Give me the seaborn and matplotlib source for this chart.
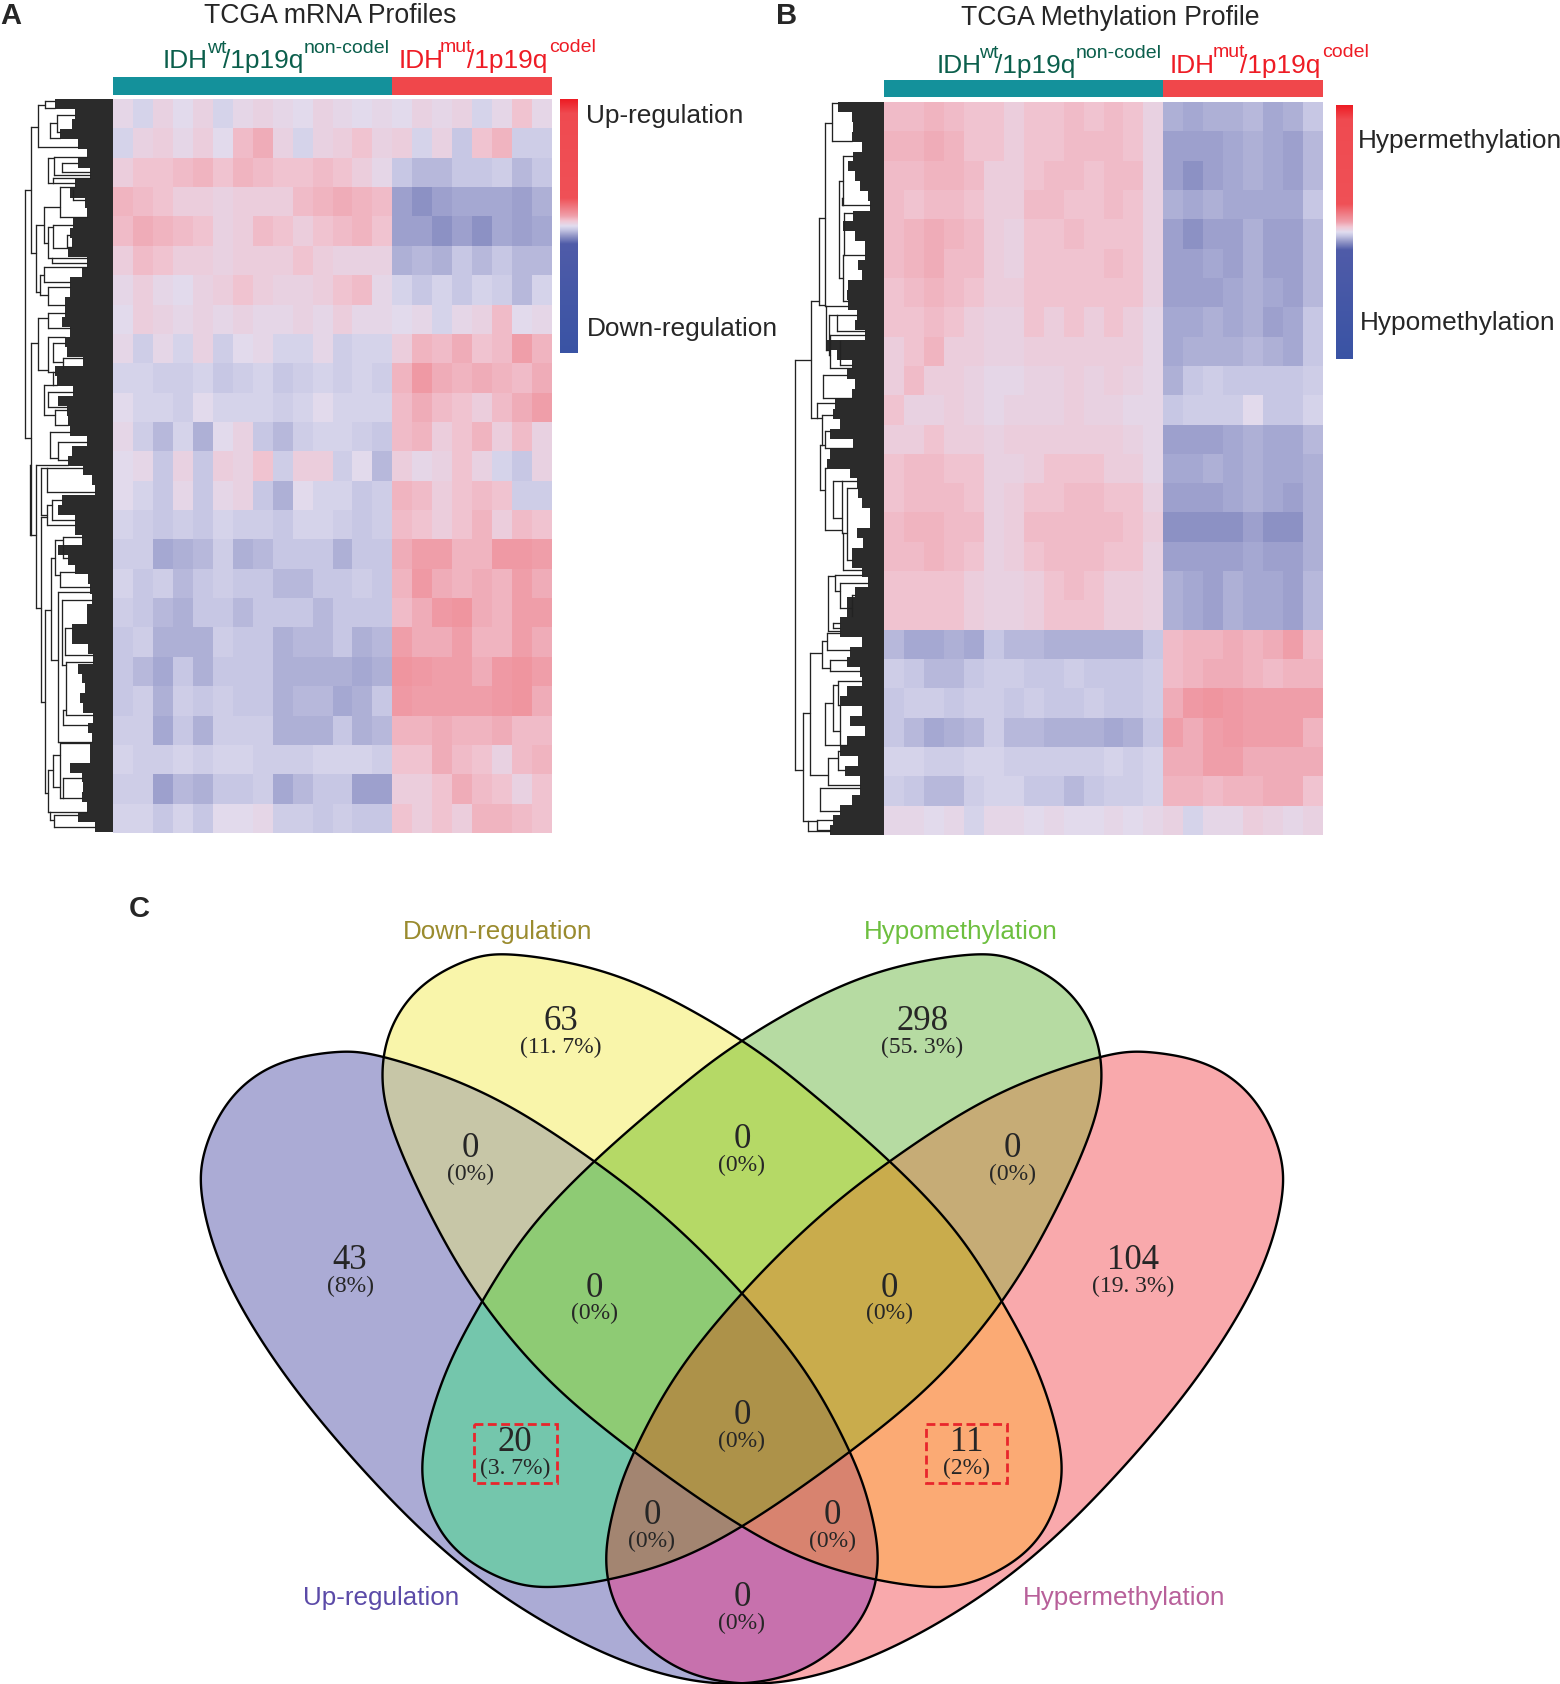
import numpy as np
import matplotlib
matplotlib.use("Agg")
import matplotlib.pyplot as plt
from matplotlib.colors import LinearSegmentedColormap, ListedColormap, to_rgb
from matplotlib.patches import Polygon, Rectangle
from matplotlib.path import Path
import seaborn as sns

W, H = 1560, 1684
sns.set_style("white")
plt.rcParams["font.family"] = ["Liberation Sans", "DejaVu Sans"]

# ---- DATA: block means (14 wt columns + 8 mut columns, 25 row bands)
mrna = [
 [1,-1,2,0,2,-1,1,2,1,0,2,1,0,1, 0,2,1,2,-1,1,4,1],
 [-1,2,3,1,3,0,5,7,2,-1,2,3,4,2, 3,-1,2,-3,4,6,-2,-2],
 [3,4,4,5,6,4,6,5,4,4,5,4,3,1, -3,-4,-4,-3,-3,-2,-4,-3],
 [6,5,4,3,3,2,3,3,3,5,6,7,6,5, -7,-8,-7,-6,-6,-6,-7,-5],
 [5,7,6,5,4,2,3,5,4,3,4,5,6,4, -7,-7,-8,-7,-8,-6,-7,-6],
 [3,5,4,3,3,2,3,3,3,4,3,2,2,2, -5,-4,-5,-3,-4,-3,-4,-4],
 [1,3,1,0,2,3,4,3,2,2,3,4,5,1, -1,-3,-1,-3,-1,-2,-4,-1],
 [0,3,2,1,2,1,2,1,1,2,1,3,1,1, 0,1,-1,1,2,5,0,1],
 [1,-2,1,-1,2,-2,0,1,-1,-1,1,-2,-1,-1, 3,6,5,7,4,5,8,6],
 [-1,-1,-2,-2,-1,-3,-2,-1,-3,-2,-1,-2,-1,-2, 6,9,7,6,7,6,5,7],
 [0,-1,-1,-2,0,-1,-1,-1,-2,-1,0,-1,-1,-1, 5,7,5,4,3,5,7,8],
 [1,-2,-4,-1,-5,0,2,-3,-4,-2,-1,-1,-2,-3, 5,6,3,4,6,3,5,2],
 [0,1,-3,2,-3,3,2,4,-2,3,3,-2,0,-4, 3,1,2,4,2,-1,-3,2],
 [0,-1,-3,1,-3,1,2,-3,-5,0,-1,-1,-3,-2, 6,5,3,4,5,4,-2,-2],
 [-1,-2,-3,-2,-3,-1,-2,-2,-3,-1,-1,-2,-3,-2, 5,4,3,4,6,3,5,4],
 [-2,-2,-6,-5,-4,-2,-5,-4,-3,-3,-3,-5,-3,-3, 7,8,8,6,6,9,9,8],
 [-1,-3,-2,-4,-3,-2,-3,-3,-4,-4,-3,-3,-2,-3, 6,9,7,6,7,6,8,7],
 [-2,-3,-4,-5,-3,-3,-4,-3,-3,-3,-4,-3,-3,-3, 5,7,9,10,7,6,8,8],
 [-3,-2,-5,-5,-5,-2,-3,-3,-5,-4,-4,-3,-5,-4, 8,7,7,8,6,6,8,7],
 [-3,-4,-6,-3,-5,-3,-3,-3,-5,-5,-5,-5,-6,-5, 10,9,8,8,7,9,10,8],
 [-3,-2,-5,-2,-3,-2,-3,-3,-5,-4,-4,-6,-5,-3, 9,8,8,8,8,9,10,7],
 [-2,-2,-6,-3,-5,-2,-2,-2,-5,-5,-5,-3,-5,-4, 6,6,7,6,6,7,5,5],
 [-1,-2,-2,-1,-2,-1,-1,-2,-2,-2,-1,-1,-1,-2, 4,4,7,5,4,2,5,6],
 [-2,-2,-7,-4,-5,-3,-3,-2,-6,-4,-3,-3,-7,-7, 3,3,4,7,5,4,2,4],
 [-1,-1,-3,-1,-3,0,0,1,-2,-2,-3,-2,-3,-3, 4,3,4,3,6,6,5,4],
]
methylation = [
 [5,5,6,5,4,4,3,4,4,5,4,5,4,2, -5,-6,-5,-5,-4,-6,-5,-3],
 [6,6,7,6,4,4,3,4,4,5,5,5,4,2, -7,-7,-7,-6,-5,-6,-7,-4],
 [5,5,6,6,5,3,3,4,5,5,4,5,5,2, -7,-8,-7,-6,-5,-6,-7,-4],
 [5,4,5,5,4,3,3,5,5,4,4,5,4,2, -5,-6,-5,-6,-6,-6,-6,-3],
 [5,6,7,6,5,3,2,4,4,5,4,4,4,2, -7,-8,-7,-7,-5,-7,-7,-4],
 [5,6,7,5,5,3,2,4,4,4,4,5,4,2, -7,-7,-6,-7,-5,-7,-7,-4],
 [4,5,6,5,4,3,3,4,4,4,4,4,4,2, -7,-7,-7,-6,-5,-6,-7,-4],
 [4,4,5,4,3,2,2,4,3,4,3,4,3,1, -6,-6,-5,-6,-5,-7,-6,-3],
 [3,4,6,3,3,2,2,3,3,3,3,3,3,1, -6,-5,-5,-5,-4,-5,-6,-3],
 [3,5,3,3,2,1,1,2,2,3,2,3,2,1, -5,-3,-2,-3,-3,-3,-3,-2],
 [4,2,2,3,2,1,2,2,2,3,2,2,1,1, -3,-2,-2,-2,0,-3,-3,-1],
 [3,3,4,3,3,2,3,3,3,3,3,3,2,1, -7,-7,-7,-6,-5,-6,-6,-4],
 [4,5,5,4,4,2,2,3,4,4,4,3,3,1, -6,-6,-5,-6,-5,-6,-6,-5],
 [4,5,5,5,4,2,3,4,4,5,5,4,4,2, -7,-7,-7,-6,-5,-6,-7,-5],
 [5,6,6,5,5,2,3,5,5,5,5,5,4,3, -8,-8,-8,-8,-7,-8,-8,-5],
 [5,5,6,5,4,2,3,4,5,5,5,4,4,2, -7,-7,-7,-7,-6,-7,-7,-5],
 [4,4,4,4,3,2,2,3,4,5,4,3,3,2, -5,-6,-7,-5,-6,-6,-7,-4],
 [4,4,4,4,3,2,2,3,4,4,4,3,3,2, -5,-6,-7,-5,-6,-6,-7,-4],
 [-4,-6,-6,-5,-6,-3,-4,-4,-5,-5,-5,-5,-5,-3, 5,6,6,7,6,7,8,5],
 [-2,-3,-4,-4,-3,-2,-2,-3,-3,-2,-3,-3,-3,-2, 5,6,7,7,6,5,6,6],
 [-3,-2,-2,-3,-2,-2,-3,-2,-3,-3,-2,-3,-3,-2, 7,9,10,9,8,8,8,8],
 [-3,-4,-6,-5,-4,-2,-4,-4,-5,-5,-5,-6,-5,-3, 8,7,8,9,8,8,8,6],
 [-1,-1,-2,-2,-1,-1,-2,-2,-2,-2,-2,-1,-2,-1, 7,7,8,8,7,7,7,7],
 [-2,-3,-4,-4,-2,-1,-1,-3,-3,-4,-3,-2,-2,-1, 6,6,5,6,6,7,7,4],
 [1,1,0,1,-1,1,1,0,1,0,0,1,0,1, 2,-1,1,1,3,2,1,2],
]
group_mrna = [0]*14 + [1]*8
group_meth = [0]*14 + [1]*8

leaf_a = [55,75,72,60,78,87,78,90,75,70,85,87,73,70,72,68,87,82,70,70,65,65,62,70,65,67,83,55,57,73,58,67,68,70,87,72,68,
          83,92,95,62,58,75,75,82,58,68,75,88,90,92,87,87,72,72,88,93,78,82,85,80,83,93,88,92,90,90,70,82,83,82,87,78,95]
leaf_b = [838,852,853,852,862,853,848,855,860,868,870,853,843,855,865,865,858,862,848,847,848,857,855,865,827,837,852,847,855,852,835,833,840,830,853,830,827,
          850,857,858,862,870,870,857,863,852,852,862,868,855,847,847,840,840,862,850,847,860,862,847,840,862,850,865,847,840,858,845,860,860,852,840,833,830]
dend_a = [(25,190,438),(31,127,253),(31,343,535),(38,105,147),(45,101,108),(50,123,138),(57,115,132),
          (48,158,183),(54,157,175),(62,163,172),(53,178,183),(36,225,292),(44,207,243),(60,187,217),(73,190,200),
          (48,227,258),(53,225,248),(67,235,247),(52,258,263),(44,267,282),(40,275,295),(48,287,305),
          (38,318,370),(48,313,328),(48,337,372),(53,343,362),(63,358,368),(53,372,385),(44,385,415),(48,392,407),
          (55,410,425),(50,432,458),(58,442,460),(36,465,608),(41,468,515),(47,468,492),(47,505,525),(52,500,520),
          (45,610,793),(41,517,702),(30,465,535),(51,558,660),(55,540,575),(63,537,558),(60,572,587),(58,592,742),
          (62,600,665),(65,628,655),(66,662,715),(63,710,725),(60,743,798),(53,755,787),(48,770,812),(63,778,798),
          (50,812,820),(54,815,827)]
dend_b = [(795,360,770),(811,301,418),(819,218,305),(825,123,306),(832,103,141),(839,181,278),(843,156,205),
          (842,198,205),(844,213,255),(843,255,301),(826,306,350),(829,315,355),(830,335,368),(837,315,331),(840,341,365),
          (823,375,398),(817,403,418),(822,415,445),(820,445,490),(825,431,448),(825,468,530),(833,481,518),(842,481,533),
          (847,488,560),(843,533,570),(828,576,631),(835,575,591),(840,583,608),(852,595,616),(833,623,628),(810,653,775),
          (822,641,668),(827,633,650),(830,660,671),(825,703,745),(833,685,731),(838,681,705),(840,706,745),(803,713,821),
          (828,758,785),(838,751,770),(820,788,811),(808,821,831),(817,820,830)]

venn_names = ["Up-regulation", "Down-regulation", "Hypomethylation", "Hypermethylation"]
venn_counts = [63, 298, 0, 0, 0, 43, 104, 0, 0, 0, 20, 11, 0, 0, 0]
venn_pcts = ["(11. 7%)", "(55. 3%)", "(0%)", "(0%)", "(0%)", "(8%)", "(19. 3%)", "(0%)", "(0%)",
             "(0%)", "(3. 7%)", "(2%)", "(0%)", "(0%)", "(0%)"]

# ---- STYLE
cmap = LinearSegmentedColormap.from_list("rb", [
    (0, "#3953A4"), (.43, "#4F5BA8"), (.46, "#8E93C5"), (.485, "#C5C5E3"), (.5, "#E0DCEF"),
    (.52, "#F0C6D3"), (.54, "#EF9FAA"), (.61, "#EF5056"), (.945, "#EF4A50"), (1, "#ED1C24")])
group_cmap = ListedColormap(["#14919B", "#F0474B"])
region_colors = {(1,0,0,0): "#ABABD5", (0,1,0,0): "#F9F5AA", (0,0,1,0): "#B6DBA2", (0,0,0,1): "#F9A9AC",
                 (1,1,0,0): "#C7C6A7", (0,1,1,0): "#B5D966", (0,0,1,1): "#C6AC76", (1,1,1,0): "#8ECB74",
                 (0,1,1,1): "#C9AC4C", (1,1,1,1): "#AD9249", (1,0,1,0): "#74C6AC", (0,1,0,1): "#FBAA74",
                 (1,0,1,1): "#A38571", (1,1,0,1): "#D8836F", (1,0,0,1): "#C771AD"}
# outlines of the two left-leaning petals (the other two are their mirror images)
outline_up = [(215,335),(130,360),(68,428),(33,530),(30,620),(53,740),(100,870),(180,1030),(300,1220),(420,1370),
              (560,1490),(680,1553),(780,1568),(870,1538),(942,1452),(970,1340),(957,1220),(930,1115),(870,960),
              (780,805),(680,665),(575,548),(430,418),(285,345)]
outline_down = [(470,145),(400,155),(333,208),(292,290),(280,390),(298,500),(350,660),(415,815),(510,975),(630,1115),
                (780,1262),(900,1342),(1035,1380),(1112,1364),(1182,1302),(1218,1210),(1223,1110),(1192,960),(1140,820),
                (1075,680),(985,548),(880,420),(780,312),(620,190)]

fig = plt.figure(figsize=(W/100, H/100), dpi=100)
def axpx(x0, y0, x1, y1, **kw):
    return fig.add_axes([x0/W, 1-y1/H, (x1-x0)/W, (y1-y0)/H], **kw)

def panel(data, groups, box, bar, cb):
    ax = axpx(*box)
    cax = axpx(*cb)
    sns.heatmap(np.array(data), ax=ax, cbar_ax=cax, cmap=cmap, vmin=-100, vmax=100,
                xticklabels=False, yticklabels=False)
    cbar = ax.collections[0].colorbar
    cbar.set_ticks([])
    cbar.outline.set_visible(False)
    bx = axpx(box[0], bar[0], box[2], bar[1])
    sns.heatmap(np.array([groups]), ax=bx, cmap=group_cmap, cbar=False, vmin=0, vmax=1,
                xticklabels=False, yticklabels=False)

panel(mrna, group_mrna, (113, 99, 552, 833), (77, 95), (560, 99, 578, 353))
panel(methylation, group_meth, (884, 102, 1323, 835), (80, 97), (1336, 105, 1353, 359))

ov = fig.add_axes([0, 0, 1, 1], zorder=5)
ov.patch.set_alpha(0)
ov.set_axis_off()

# ---- dendrograms
def dendrogram(br, leaves, y0, xr):
    h = 733.0/len(leaves)
    ys = y0 + np.arange(len(leaves)) * h
    ov.barh(ys + h/2, [xr - l for l in leaves], height=h, left=leaves, color="#2B2B2B", lw=0)
    for x, a, b in br:
        ov.plot([x, x], [a, b], color="#222222", lw=0.95, solid_capstyle="projecting")
        for y in (a, b):
            kids = [k[0] for k in br if k[0] > x and k[1] <= y <= k[2]]
            leaf = leaves[min(max(int((y - y0)/h), 0), len(leaves) - 1)]
            ov.plot([x, min(kids) if kids else max(leaf, x)], [y, y], color="#222222", lw=0.95)
dendrogram(dend_a, leaf_a, 99, 113)
dendrogram(dend_b, leaf_b, 102, 884)

# ---- venn
def zx(v): return 180 + np.asarray(v)/1.388
def zy(v): return 880 + np.asarray(v)/1.95
def smooth(pts, mirror=False):
    P = np.array(pts, float)
    if mirror:
        P[:, 0] = 1560 - P[:, 0]
    n = 24
    t = np.linspace(0, 1, n, endpoint=False)[:, None]
    out = []
    for i in range(len(P)):
        p0, p1, p2, p3 = P[i-1], P[i], P[(i+1) % len(P)], P[(i+2) % len(P)]
        out.append(.5*(2*p1 + (p2-p0)*t + (2*p0-5*p1+4*p2-p3)*t**2 + (3*p1-p0-3*p2+p3)*t**3))
    C = np.vstack(out)
    # running mean over one control-point span rounds off the tracing's small corners
    kernel = np.ones(n)/n
    C = np.c_[[np.convolve(np.r_[c[-n:], c, c[:n]], kernel, "same")[n:-n] for c in C.T]].T
    return np.c_[zx(C[:, 0]), zy(C[:, 1])]
shapes = [smooth(outline_up), smooth(outline_down), smooth(outline_down, True), smooth(outline_up, True)]
gx, gy = np.meshgrid(np.arange(190, 1300) + .5, np.arange(940, 1684) + .5)
pts = np.c_[gx.ravel(), gy.ravel()]
masks = [Path(s).contains_points(pts).reshape(gx.shape) for s in shapes]
rgba = np.zeros(gx.shape + (4,))
for key, col in region_colors.items():
    m = np.ones(gx.shape, bool)
    for flag, mk in zip(key, masks):
        m &= mk if flag else ~mk
    rgba[m] = (*to_rgb(col), 1)
ov.imshow(rgba, extent=(190, 1300, 1684, 940), aspect="auto", interpolation="nearest", zorder=1)
for s in shapes:
    ov.add_patch(Polygon(s, closed=True, fill=False, ec="black", lw=1.7, zorder=2))
ov.set_xlim(0, W); ov.set_ylim(H, 0)

pos = [(528,272),(1030,272),(403,520),(780,503),(1155,520),(236,738),(1323,738),(575,792),(985,792),
       (780,1040),(465,1093),(1092,1093),(655,1236),(905,1236),(780,1395)]
for (px, py), c, p in zip(pos, venn_counts, venn_pcts):
    ov.text(zx(px), zy(py) + 2, str(c), ha="center", va="center", family="Liberation Serif", fontsize=25, zorder=4)
    ov.text(zx(px), zy(py+50) + 2, p, ha="center", va="center", family="Liberation Serif", fontsize=17, zorder=4)
for x0, x1 in ((408, 523), (1035, 1148)):
    ov.add_patch(Rectangle((zx(x0), zy(1060)), zx(x1)-zx(x0), zy(1175)-zy(1060), fill=False,
                           ec="#E8262C", lw=2, ls=(0, (3.2, 1.6)), zorder=4))
for name, (x, y), c in zip(venn_names, [(381,1598),(498,932),(961,932),(1124,1598)],
                           ["#5B4AA8", "#9A8B2E", "#6DBF3F", "#B8609A"]):
    ov.text(x, y, name, ha="center", va="center", color=c, fontsize=18.7)

# ---- text
ov.text(330.5, 23, "TCGA mRNA Profiles", ha="center", va="baseline", fontsize=19.2)
ov.text(1110, 25, "TCGA Methylation Profile", ha="center", va="baseline", fontsize=19.2)
for t, x, y in (("A", 0, 24), ("B", 776, 24), ("C", 129, 917)):
    ov.text(x, y, t, fontweight="bold", fontsize=21, va="baseline")
GREEN, RED = "#0B5F4C", "#EE1C25"
def sup(x1, x2, x3, x4, base, supy, s2, s4, col):
    ov.text(x1, base, "IDH", color=col, fontsize=18.9, va="baseline")
    ov.text(x2, supy, s2, color=col, fontsize=14, va="baseline")
    ov.text(x3, base, "/1p19q", color=col, fontsize=18.9, va="baseline")
    ov.text(x4, supy, s4, color=col, fontsize=14, va="baseline")
sup(163, 207, 223, 304, 68, 53, "wt", "non-codel", GREEN)
sup(399, 440, 467, 549, 68, 52, "mut", "codel", RED)
sup(937, 979, 995, 1076, 73, 58, "wt", "non-codel", GREEN)
sup(1170, 1213, 1240, 1322, 73, 57, "mut", "codel", RED)
for t, x, y in (("Up-regulation", 586, 116), ("Down-regulation", 587, 329),
                ("Hypermethylation", 1358, 141), ("Hypomethylation", 1360, 323)):
    ov.text(x, y, t, va="center", fontsize=18.9)

fig.savefig("out.png", dpi=100)
